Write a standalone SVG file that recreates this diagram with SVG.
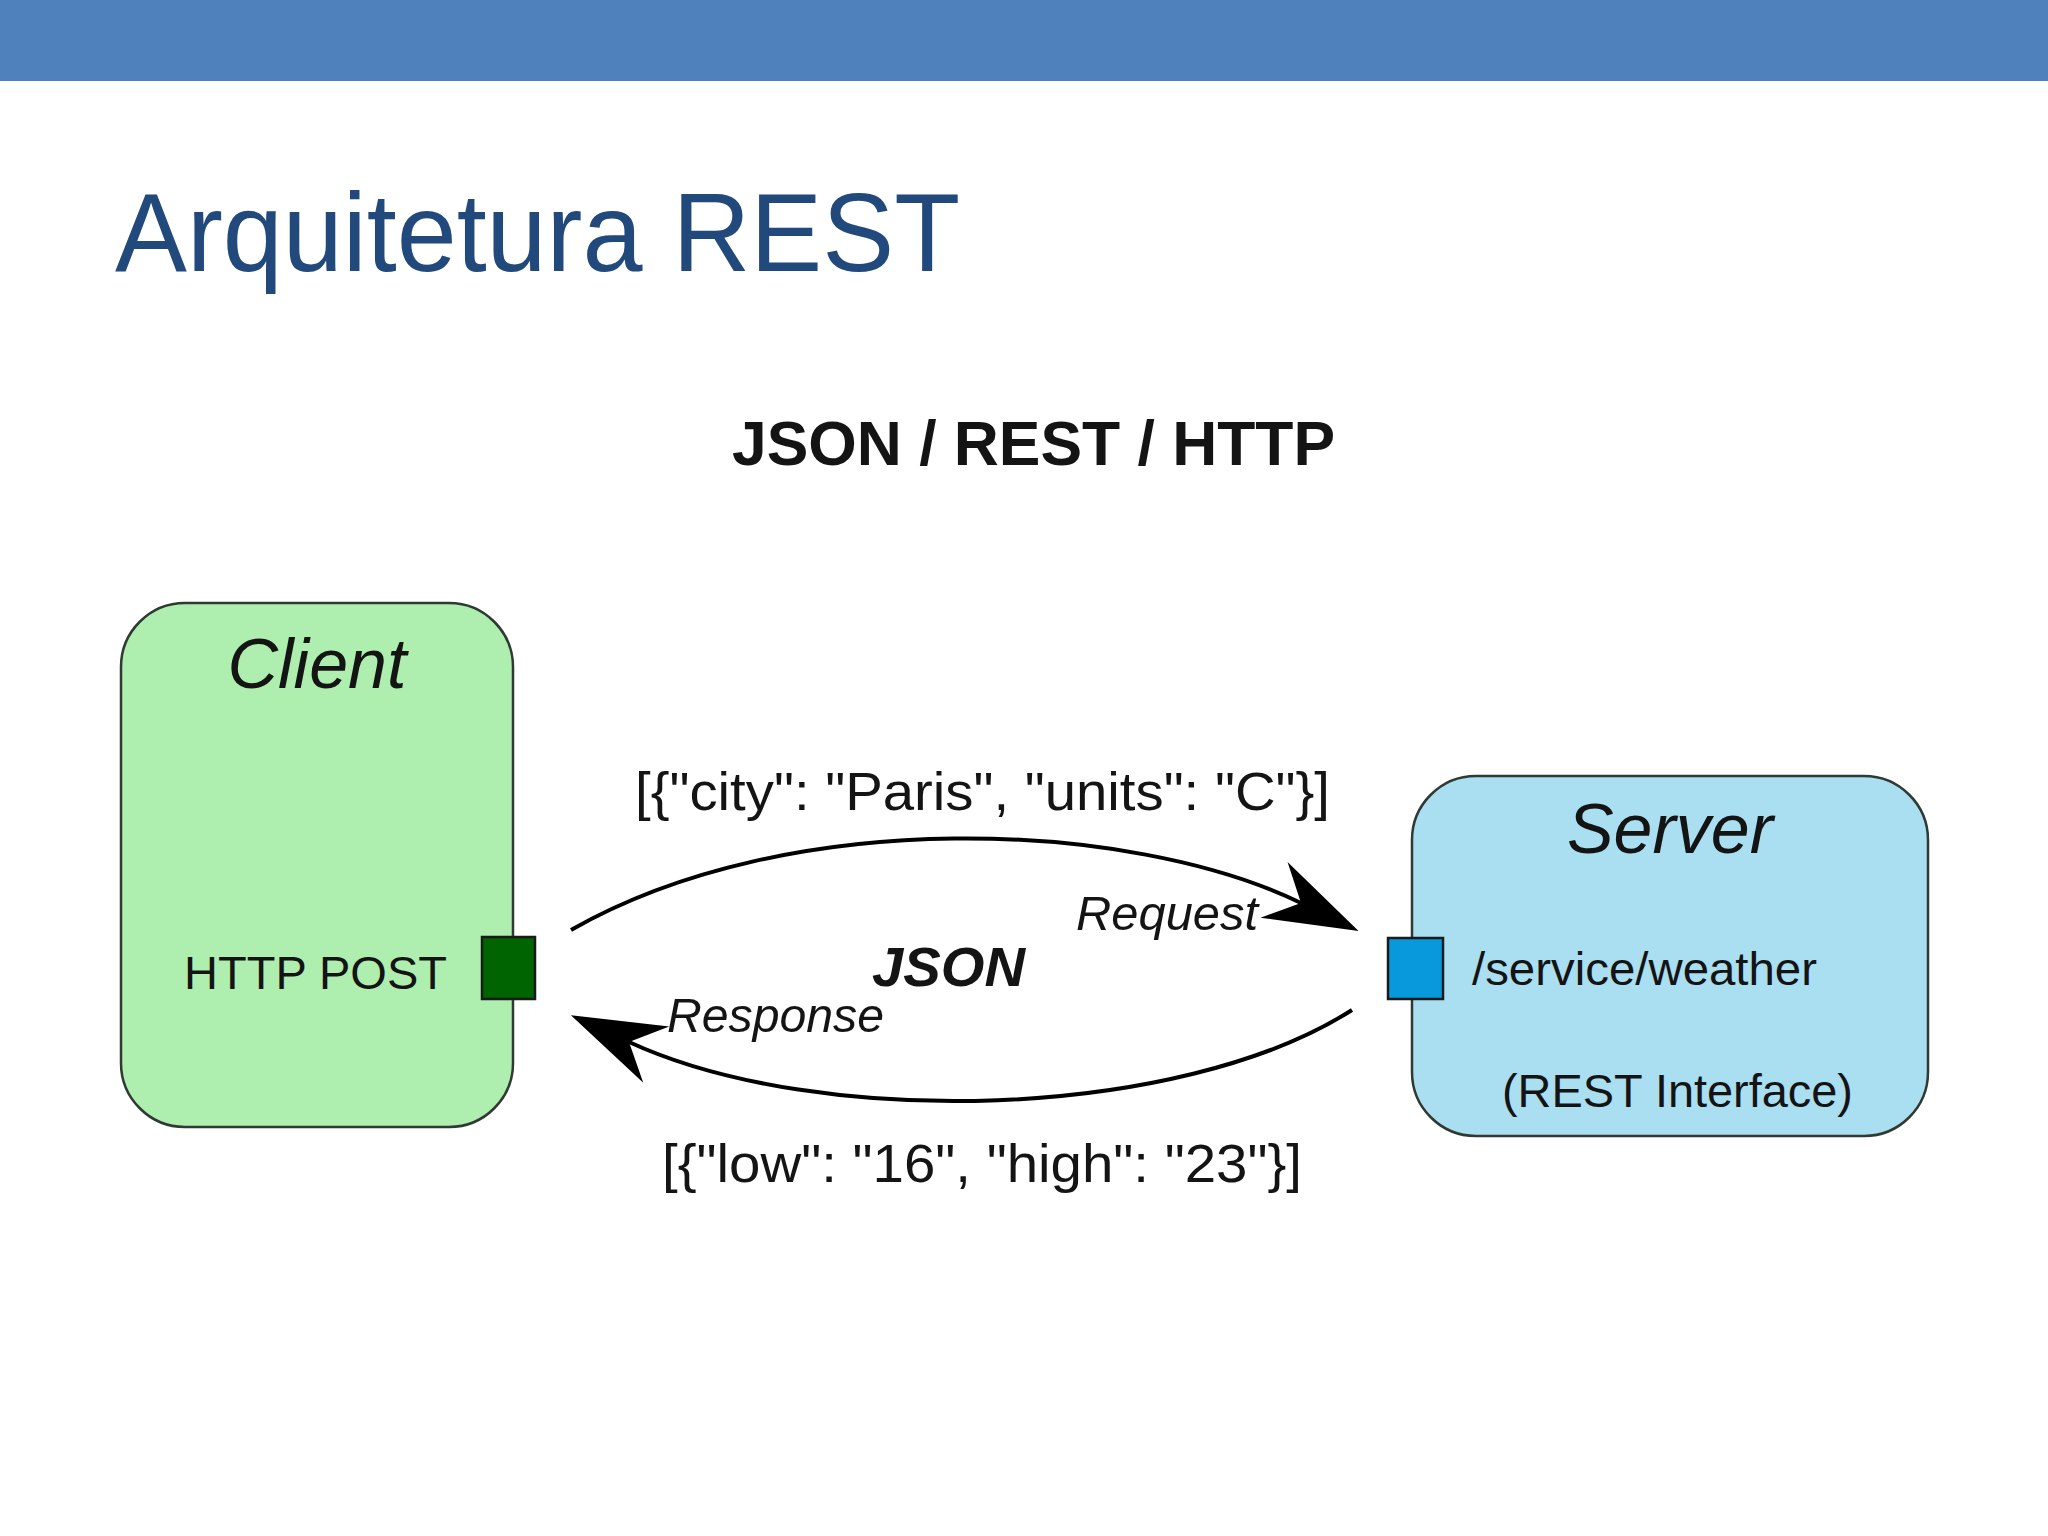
<svg xmlns="http://www.w3.org/2000/svg" width="2048" height="1536" viewBox="0 0 2048 1536">
  <style>
    .t { font-family: "Liberation Sans", Arial, sans-serif; fill: #141414; }
    .it { font-style: italic; }
    .b { font-weight: bold; }
    .box { stroke: #2f3a33; stroke-width: 2.5; }
    .port { stroke: #1a1a1a; stroke-width: 2.5; }
    .conn { fill: none; stroke: #000; stroke-width: 4; }
  </style>
  <defs>
    <marker id="head" viewBox="-40 -40 110 80" markerWidth="110" markerHeight="80" refX="0" refY="0" orient="auto" markerUnits="userSpaceOnUse" overflow="visible">
      <path d="M64,0 L-30,-31 L0,0 L-30,31 Z" fill="#000"/>
    </marker>
  </defs>
  <rect x="0" y="0" width="2048" height="1536" fill="#ffffff"/>
  <rect x="0" y="0" width="2048" height="81" fill="#4f81bd"/>
  <text x="115" y="271" font-family="Liberation Sans, Arial, sans-serif" font-size="112" fill="#22497c" textLength="845" lengthAdjust="spacingAndGlyphs">Arquitetura REST</text>
  <text class="t b" x="732" y="465" font-size="63" textLength="603" lengthAdjust="spacingAndGlyphs">JSON / REST / HTTP</text>

  <g id="client">
    <rect class="box" x="121" y="603" width="392" height="524" rx="64" ry="64" fill="#aeeeae"/>
    <text class="t it" x="317" y="688" font-size="70" text-anchor="middle">Client</text>
    <text class="t" x="184" y="989" font-size="47" textLength="263" lengthAdjust="spacingAndGlyphs">HTTP POST</text>
    <rect class="port" x="482" y="937" width="53" height="62" fill="#006400"/>
  </g>

  <g id="server">
    <rect class="box" x="1412" y="776" width="516" height="360" rx="64" ry="64" fill="#aadef1"/>
    <text class="t it" x="1670" y="853" font-size="70" text-anchor="middle">Server</text>
    <text class="t" x="1472" y="985" font-size="47" textLength="345" lengthAdjust="spacingAndGlyphs">/service/weather</text>
    <text class="t" x="1502" y="1107" font-size="47" textLength="351" lengthAdjust="spacingAndGlyphs">(REST Interface)</text>
    <rect class="port" x="1388" y="938" width="55" height="61" fill="#0799dc"/>
  </g>

  <g id="connectors">
    <path class="conn" d="M571,930 C790,805 1130,820 1301,903" marker-end="url(#head)"/>
    <path class="conn" d="M1352,1010 C1180,1120 820,1130 629,1042" marker-end="url(#head)"/>
    <text class="t" x="635" y="810" font-size="54" textLength="695" lengthAdjust="spacingAndGlyphs">[{"city": "Paris", "units": "C"}]</text>
    <text class="t it" x="1076" y="930" font-size="48" textLength="182" lengthAdjust="spacingAndGlyphs">Request</text>
    <text class="t it b" x="872" y="986" font-size="56" textLength="153" lengthAdjust="spacingAndGlyphs">JSON</text>
    <text class="t it" x="667" y="1032" font-size="48" textLength="217" lengthAdjust="spacingAndGlyphs">Response</text>
    <text class="t" x="662" y="1182" font-size="54" textLength="640" lengthAdjust="spacingAndGlyphs">[{"low": "16", "high": "23"}]</text>
  </g>
</svg>
